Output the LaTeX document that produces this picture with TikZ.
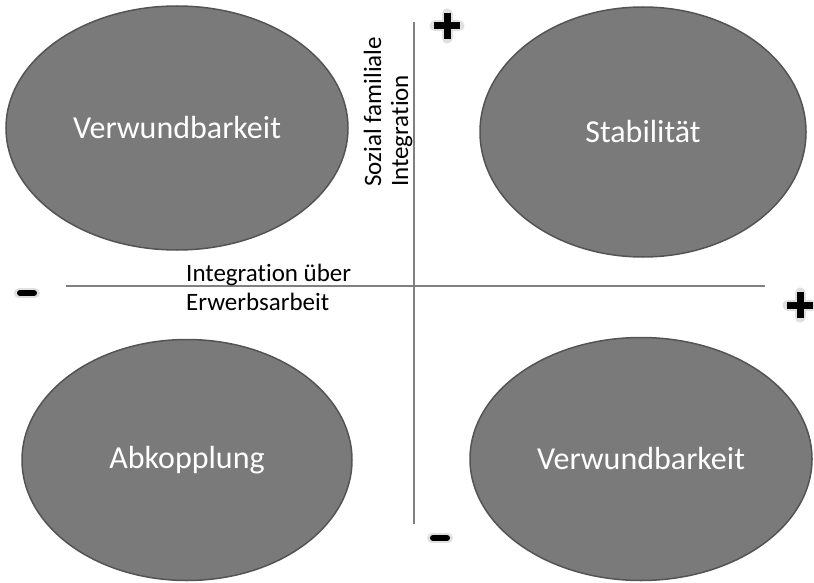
\documentclass[tikz,border=0pt]{standalone}
\usepackage{fontspec}
\setmainfont{Carlito}[Ligatures=NoCommon, RawFeature=-liga]
\usetikzlibrary{shapes.geometric}
\tikzset{
  % grey quadrant ellipses
  quadrant/.style={ellipse, draw=black!67, line width=1.5pt, fill=black!52,
    text=white, font=\fontsize{32}{38}\selectfont, inner sep=0pt},
  axis/.style={draw=black!50, line width=2pt},
  axislabel/.style={font=\fontsize{25}{29}\selectfont, align=left, inner sep=0pt},
  % plus and minus signs with a soft rim
  sign/.style={line width=7pt, black},
  glow/.style={line width=11pt, black!12, line cap=round},
}
\begin{document}
\begin{tikzpicture}[x=1pt,y=-1pt]
  \useasboundingbox (0,0) rectangle (814,583);

  \draw[axis] (66,286) -- (765,286);
  \draw[axis] (414,22) -- (414,524);

  \node[quadrant, minimum width=342pt, minimum height=244pt] (vulnA) at (177,128) {Verwundbarkeit};
  \node[quadrant, minimum width=326pt, minimum height=250pt] (stable) at (643,132) {Stabilität};
  \node[quadrant, minimum width=330pt, minimum height=241pt] (decoupl) at (187,460) {Abkopplung};
  \node[quadrant, minimum width=342pt, minimum height=243pt] (vulnB) at (641,459) {Verwundbarkeit};

  \node[axislabel, anchor=west] (xlabel) at (186,287) {Integration über\\Erwerbsarbeit};
  \node[axislabel, rotate=90, anchor=west, font=\fontsize{25}{27}\selectfont] (ylabel) at (388,187) {Sozial familiale\\Integration};

  \foreach \px/\py in {447/26, 800/305} {
    \draw[glow] (\px-12,\py) -- (\px+12,\py) (\px,\py-12) -- (\px,\py+12);
    \draw[sign] (\px-13,\py) -- (\px+13,\py) (\px,\py-13) -- (\px,\py+13);
  }
  \foreach \px/\py in {27/293, 440/538} {
    \draw[glow, line width=10pt] (\px-8,\py) -- (\px+8,\py);
    \draw[sign, line width=6pt, line cap=round] (\px-7,\py) -- (\px+7,\py);
  }
\end{tikzpicture}
\end{document}
